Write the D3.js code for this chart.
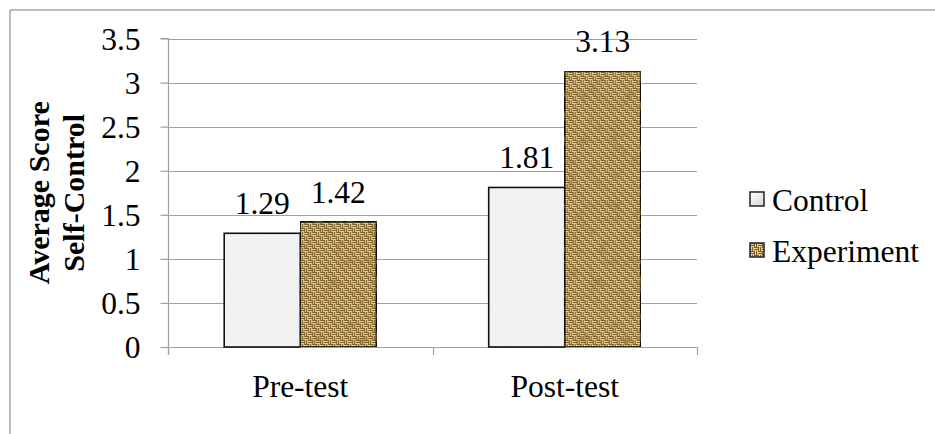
<!DOCTYPE html>
<html>
<head>
<meta charset="utf-8">
<script src="https://cdn.jsdelivr.net/npm/d3@7"></script>
<style>
  html, body { margin: 0; padding: 0; background: #fff; }
  svg { display: block; }
  svg text { font-family: "Liberation Serif", "Times New Roman", Times, serif !important; fill: #000; }
</style>
</head>
<body>
<script>
const categories = ["Pre-test", "Post-test"];
const seriesNames = ["Control", "Experiment"];
const controlValues = [1.29, 1.81];
const experimentValues = [1.42, 3.13];
const yTicks = [0, 0.5, 1, 1.5, 2, 2.5, 3, 3.5];
const yTickLabels = ["0", "0.5", "1", "1.5", "2", "2.5", "3", "3.5"];
const axisTitleLines = ["Average Score", "Self-Control"];

const W = 935, H = 434;
const plot = { left: 168, right: 697, top: 38.5, bottom: 347 };
const FONT = "Liberation Serif, Times New Roman, serif";
const FS = 31.5;

const svg = d3.select("body").append("svg").attr("width", W).attr("height", H)
  .attr("font-family", FONT);
const defs = svg.append("defs");

// Control texture: light gray mottled
const fCtrl = defs.append("filter").attr("id", "ctrlNoise").attr("x", 0).attr("y", 0).attr("width", 1).attr("height", 1);
fCtrl.append("feTurbulence").attr("type", "fractalNoise").attr("baseFrequency", 0.45).attr("numOctaves", 2).attr("seed", 3).attr("result", "n");
fCtrl.append("feColorMatrix").attr("in", "n").attr("type", "matrix")
  .attr("values", "0 0 0 0 0.84  0 0 0 0 0.84  0 0 0 0 0.84  0 0 0 -1.8 1.0").attr("result", "spots");
fCtrl.append("feFlood").attr("flood-color", "#f3f3f3").attr("result", "bg");
fCtrl.append("feComposite").attr("in", "spots").attr("in2", "bg").attr("operator", "over").attr("result", "c");
fCtrl.append("feComposite").attr("in", "c").attr("in2", "SourceGraphic").attr("operator", "in");

const cp = defs.append("pattern").attr("id", "ctrlFill").attr("patternUnits", "userSpaceOnUse").attr("width", 200).attr("height", 200);
cp.append("rect").attr("width", 200).attr("height", 200).attr("fill", "#efefef").attr("filter", "url(#ctrlNoise)");

// Experiment texture: burlap weave (integer-aligned threads)
const pat = defs.append("pattern").attr("id", "burlapWeave").attr("patternUnits", "userSpaceOnUse")
  .attr("width", 8).attr("height", 8);
pat.append("rect").attr("width", 8).attr("height", 8).attr("fill", "#7a5c28");
const light = "#e4cf94";
[[0,1],[0,3],[4,5],[4,7]].forEach(([x,y]) =>
  pat.append("rect").attr("x", x).attr("y", y).attr("width", 4).attr("height", 1).attr("fill", light));
[[5,0],[7,0],[1,4],[3,4]].forEach(([x,y]) =>
  pat.append("rect").attr("x", x).attr("y", y).attr("width", 1).attr("height", 4).attr("fill", light));

const fExp = defs.append("filter").attr("id", "expNoise").attr("x", 0).attr("y", 0).attr("width", 1).attr("height", 1);
fExp.append("feTurbulence").attr("type", "fractalNoise").attr("baseFrequency", 0.09).attr("numOctaves", 3).attr("seed", 7).attr("result", "n");
fExp.append("feColorMatrix").attr("in", "n").attr("type", "matrix")
  .attr("values", "0 0 0 0 0.28  0 0 0 0 0.18  0 0 0 0 0.04  0 0 0 -1.8 0.85").attr("result", "dark");
fExp.append("feComposite").attr("in", "dark").attr("in2", "SourceGraphic").attr("operator", "in").attr("result", "d2");
fExp.append("feMerge").call(m => { m.append("feMergeNode").attr("in", "SourceGraphic"); m.append("feMergeNode").attr("in", "d2"); });

const gC = defs.append("linearGradient").attr("id", "legCtrl").attr("x1", 0).attr("y1", 0).attr("x2", 1).attr("y2", 1);
gC.append("stop").attr("offset", 0).attr("stop-color", "#ffffff");
gC.append("stop").attr("offset", 1).attr("stop-color", "#d4d4d4");

const fills = ["url(#ctrlFill)", "url(#burlapWeave)"];

// Outer frame
svg.append("line").attr("x1", 10).attr("y1", 10).attr("x2", W).attr("y2", 10).attr("stroke", "#a6a6a6").attr("stroke-width", 1.5);
svg.append("line").attr("x1", 10).attr("y1", 10).attr("x2", 10).attr("y2", H).attr("stroke", "#a6a6a6").attr("stroke-width", 1.5);

const y = d3.scaleLinear().domain([0, 3.5]).range([plot.bottom, plot.top]);
const x0 = d3.scaleBand().domain(categories).range([plot.left, plot.right]).paddingInner(0.425).paddingOuter(0.2125);
const x1 = d3.scaleBand().domain(seriesNames).range([0, x0.bandwidth()]).padding(0);

// Gridlines
svg.append("g").selectAll("line").data(yTicks).join("line")
  .attr("x1", plot.left).attr("x2", plot.right)
  .attr("y1", d => Math.round(y(d)) + 0.5).attr("y2", d => Math.round(y(d)) + 0.5)
  .attr("stroke", "#a0a0a0").attr("stroke-width", 1.2);

// Y axis
const yAxis = d3.axisLeft(y).tickValues(yTicks).tickFormat((d, i) => yTickLabels[i]).tickSize(8).tickPadding(20);
const gy = svg.append("g").attr("transform", `translate(${plot.left + 0.5},0)`).call(yAxis)
  .attr("font-family", FONT).attr("font-size", FS);
gy.select(".domain").attr("stroke", "#a0a0a0").attr("stroke-width", 1.2).attr("d", `M-8,${plot.top}H0V${plot.bottom + 8}`);
gy.selectAll(".tick line").attr("stroke", "#a0a0a0").attr("stroke-width", 1.2);
gy.selectAll(".tick text").attr("dy", "0.34em").attr("fill", "#000");

// X axis ticks at category boundaries
const gap = x0.step() - x0.bandwidth();
const bounds = categories.map(c => x0(c) - gap / 2).concat([plot.right]);
svg.append("g").selectAll("line").data(bounds).join("line")
  .attr("x1", d => Math.round(d) + 0.5).attr("x2", d => Math.round(d) + 0.5)
  .attr("y1", plot.bottom).attr("y2", plot.bottom + 8)
  .attr("stroke", "#a0a0a0").attr("stroke-width", 1.2);

svg.append("g").selectAll("text").data(categories).join("text")
  .attr("x", d => x0(d) + x0.bandwidth() / 2).attr("y", 397)
  .attr("text-anchor", "middle").attr("font-size", FS).text(d => d);

// Bars
const rows = categories.map((c, i) => ({ cat: c, vals: [controlValues[i], experimentValues[i]] }));
const groups = svg.append("g").selectAll("g").data(rows).join("g")
  .attr("transform", d => `translate(${x0(d.cat)},0)`);
groups.selectAll("rect").data(d => d.vals.map((v, j) => ({ s: seriesNames[j], v, j }))).join("rect")
  .attr("x", d => x1(d.s)).attr("width", x1.bandwidth())
  .attr("y", d => y(d.v)).attr("height", d => y(0) - y(d.v))
  .attr("fill", d => fills[d.j])
  .attr("filter", d => d.j === 1 ? "url(#expNoise)" : null)
  .attr("stroke", "#111").attr("stroke-width", 1.6);

// Value labels
groups.selectAll("text").data(d => d.vals.map((v, j) => ({ s: seriesNames[j], v }))).join("text")
  .attr("x", d => x1(d.s) + x1.bandwidth() / 2).attr("y", d => y(d.v) - 19)
  .attr("text-anchor", "middle").attr("font-size", FS).text(d => d.v.toFixed(2));

// Y axis title
const title = svg.append("text").attr("font-size", 30).attr("font-weight", "bold")
  .attr("text-anchor", "middle")
  .attr("transform", `translate(49,${(plot.top + plot.bottom) / 2}) rotate(-90)`);
axisTitleLines.forEach((t, i) => title.append("tspan").attr("x", 0).attr("y", i * 35).text(t));

// Legend
const legY = [192, 243];
const leg = svg.append("g").selectAll("g").data(seriesNames).join("g")
  .attr("transform", (d, i) => `translate(750,${legY[i]})`);
leg.append("rect").attr("width", 14).attr("height", 14)
  .attr("fill", (d, i) => i === 0 ? "url(#legCtrl)" : "url(#burlapWeave)")
  .attr("stroke", "#222").attr("stroke-width", 1.5);
leg.append("text").attr("x", 22).attr("y", 18.5).attr("font-size", FS).text(d => d);
</script>
</body>
</html>
